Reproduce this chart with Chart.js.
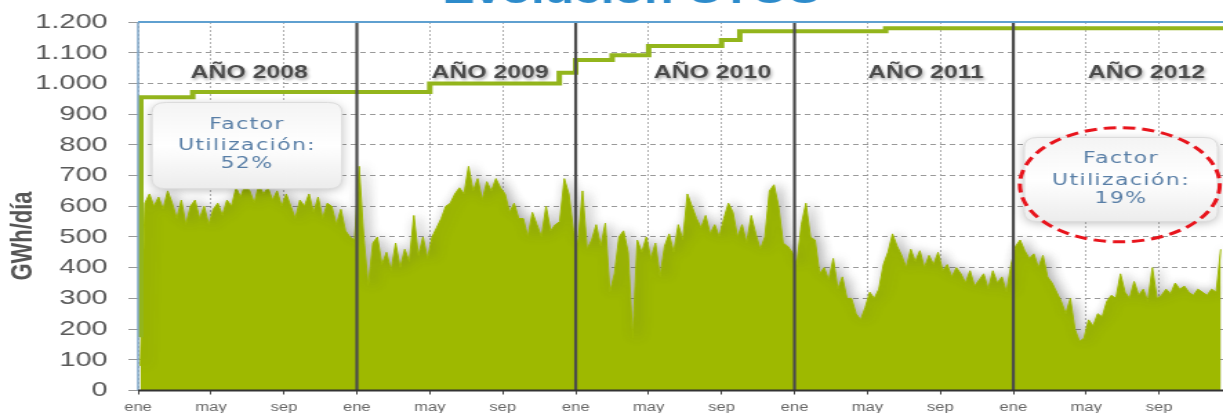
<!DOCTYPE html>
<html>
<head>
  <meta charset="utf-8">
  <title>Evolución CTCC</title>
  <script src="https://cdn.jsdelivr.net/npm/chart.js"></script>
  <style>
    html, body { margin: 0; padding: 0; background: #fff; overflow: hidden; }
    /* the original picture is stretched sideways, so draw narrow and widen */
    #wrap { width: 886px; height: 413px; transform: scaleX(1.3804); transform-origin: 0 0; }
  </style>
</head>
<body>
  <div id="wrap"><canvas id="ctccChart" width="886" height="413"></canvas></div>

  <script>
    // x axis is in months since ene 2008, four readings per month
    const monthLabels = ['ene', 'may', 'sep'];
    const yearStarts = [12, 24, 36, 48];
    const yearLabels = ['AÑO 2008', 'AÑO 2009', 'AÑO 2010', 'AÑO 2011', 'AÑO 2012'];
    const yearLabelMonths = [6.1, 19.3, 31.5, 43.2, 55.3];

    // consumo diario GWh/día (~weekly)
    const gas2008 = [80, 610, 640, 600, 630, 590, 650, 610, 560, 620, 540, 600,
                     620, 560, 600, 540, 590, 610, 570, 620, 600, 660, 630, 670,
                     650, 610, 670, 640, 660, 620, 650, 600, 640, 600, 560, 620,
                     600, 640, 580, 630, 560, 610, 600, 540, 590, 520, 500, 490];
    const gas2009 = [730, 500, 340, 480, 500, 410, 450, 390, 480, 400, 460, 420,
                     570, 440, 500, 430, 500, 530, 560, 600, 610, 640, 660, 640,
                     730, 650, 690, 620, 680, 650, 690, 660, 640, 580, 610, 560,
                     560, 500, 580, 540, 500, 600, 520, 540, 550, 690, 640, 520];
    const gas2010 = [480, 650, 460, 490, 540, 470, 545, 320, 380, 500, 520, 450,
                     170, 490, 450, 500, 430, 480, 370, 470, 510, 450, 540, 490,
                     640, 600, 560, 530, 570, 510, 540, 500, 560, 610, 580, 500,
                     540, 480, 570, 510, 460, 500, 650, 670, 600, 480, 470, 450];
    const gas2011 = [410, 540, 610, 500, 490, 380, 400, 360, 430, 330, 370, 300,
                     300, 250, 230, 270, 320, 300, 330, 410, 450, 510, 470, 440,
                     400, 460, 420, 455, 400, 440, 410, 450, 390, 410, 370, 400,
                     380, 350, 390, 340, 360, 380, 330, 390, 350, 370, 320, 410];
    const gas2012 = [470, 490, 455, 430, 445, 400, 440, 370, 350, 320, 290, 250,
                     300, 200, 160, 170, 230, 210, 250, 240, 290, 310, 300, 380,
                     320, 300, 355, 310, 330, 290, 400, 300, 310, 330, 315, 350,
                     330, 340, 320, 310, 330, 320, 310, 330, 320, 460];
    const gasYears = [gas2008, gas2009, gas2010, gas2011, gas2012];

    // capacidad (escalones)
    const capacityMonths = [0, 0.15, 3, 16, 23.1, 24, 26, 28, 32, 33, 41, 59.5];
    const capacityValues = [180, 955, 972, 1000, 1035, 1076, 1092, 1122, 1141, 1170, 1180, 1180];

    const factorTexts = [['Factor', 'Utilización:', '52%'], ['Factor', 'Utilización:', '19%']];

    const gasPoints = [];
    gasYears.forEach((vals, y) => {
      vals.forEach((v, i) => gasPoints.push({ x: 12 * y + i / 4 + 0.125, y: v }));
    });
    const capacityPoints = capacityMonths.map((m, i) => ({ x: m, y: capacityValues[i] }));

    function fmtThousands(v) {
      if (v >= 1000) return Math.floor(v / 1000) + '.' + String(v % 1000).padStart(3, '0');
      return String(v);
    }

    function roundRect(ctx, x, y, w, h, r) {
      ctx.beginPath();
      ctx.moveTo(x + r, y);
      ctx.lineTo(x + w - r, y);
      ctx.quadraticCurveTo(x + w, y, x + w, y + r);
      ctx.lineTo(x + w, y + h - r);
      ctx.quadraticCurveTo(x + w, y + h, x + w - r, y + h);
      ctx.lineTo(x + r, y + h);
      ctx.quadraticCurveTo(x, y + h, x, y + h - r);
      ctx.lineTo(x, y + r);
      ctx.quadraticCurveTo(x, y, x + r, y);
      ctx.closePath();
    }

    function drawFactorBox(chart, m0, m1, v0, v1, lines, lineVals) {
      const ctx = chart.ctx;
      const xs = chart.scales.x, ys = chart.scales.y;
      const x0 = xs.getPixelForValue(m0), x1 = xs.getPixelForValue(m1);
      const y0 = ys.getPixelForValue(v0), y1 = ys.getPixelForValue(v1);
      ctx.save();
      ctx.shadowColor = 'rgba(0, 0, 0, 0.25)';
      ctx.shadowBlur = 8;
      ctx.shadowOffsetY = 2;
      const g = ctx.createLinearGradient(0, y0, 0, y1);
      g.addColorStop(0, '#f4f4f4');
      g.addColorStop(0.5, '#ffffff');
      g.addColorStop(1, '#ececec');
      roundRect(ctx, x0, y0, x1 - x0, y1 - y0, 10);
      ctx.fillStyle = g;
      ctx.fill();
      ctx.shadowColor = 'rgba(0,0,0,0)';
      ctx.strokeStyle = '#dcdcdc';
      ctx.lineWidth = 1;
      ctx.stroke();
      ctx.fillStyle = '#587ea6';
      ctx.font = '16px "DejaVu Sans"';
      ctx.letterSpacing = '1px';
      ctx.textAlign = 'center';
      ctx.textBaseline = 'middle';
      const cx = (x0 + x1) / 2;
      lines.forEach((t, i) => ctx.fillText(t, cx, ys.getPixelForValue(lineVals[i])));
      ctx.restore();
    }

    const decorPlugin = {
      id: 'decor',
      beforeDatasetsDraw(chart) {
        const ctx = chart.ctx;
        ctx.save();
        ctx.shadowColor = 'rgba(70, 70, 70, 0.45)';
        ctx.shadowBlur = 10;
        ctx.shadowOffsetX = 3;
      },
      afterDatasetDraw(chart, args) {
        if (args.index === 1) chart.ctx.shadowColor = 'rgba(0, 0, 0, 0)';
      },
      afterDatasetsDraw(chart) {
        const ctx = chart.ctx;
        ctx.restore();
        const xs = chart.scales.x, ys = chart.scales.y;
        const { left, right, top, bottom } = chart.chartArea;

        ctx.save();
        // separadores de año
        ctx.strokeStyle = '#4b4b4b';
        ctx.lineWidth = 2.2;
        yearStarts.forEach(m => {
          const px = xs.getPixelForValue(m);
          ctx.beginPath(); ctx.moveTo(px, top); ctx.lineTo(px, bottom); ctx.stroke();
        });
        // marco
        ctx.strokeStyle = '#5fa0d0';
        ctx.lineWidth = 2;
        ctx.beginPath(); ctx.moveTo(left, top); ctx.lineTo(right, top); ctx.stroke();
        ctx.strokeStyle = '#7ea6c8';
        ctx.lineWidth = 1.5;
        ctx.beginPath(); ctx.moveTo(left, top); ctx.lineTo(left, bottom); ctx.stroke();
        ctx.strokeStyle = '#333';
        ctx.lineWidth = 2;
        ctx.beginPath(); ctx.moveTo(left, bottom); ctx.lineTo(right, bottom); ctx.stroke();

        // etiquetas de año
        ctx.font = 'bold 18px "Liberation Sans"';
        ctx.fillStyle = '#4a4a4a';
        ctx.textAlign = 'center';
        ctx.textBaseline = 'alphabetic';
        ctx.shadowColor = 'rgba(0, 0, 0, 0.35)';
        ctx.shadowBlur = 3;
        ctx.shadowOffsetX = 1;
        ctx.shadowOffsetY = 2;
        yearLabels.forEach((t, i) => ctx.fillText(t, xs.getPixelForValue(yearLabelMonths[i]), 78));
        ctx.restore();

        drawFactorBox(chart, 0.77, 11.18, 938, 657, factorTexts[0], [866, 798, 739]);
        drawFactorBox(chart, 48.6, 59.2, 824, 550, factorTexts[1], [755, 683, 623]);

        // elipse roja
        ctx.save();
        ctx.strokeStyle = '#e8141c';
        ctx.lineWidth = 3;
        ctx.setLineDash([9, 5]);
        const ex = xs.getPixelForValue(53.84), ey = ys.getPixelForValue(670);
        const rx = xs.getPixelForValue(53.84 + 5.48) - ex;
        const ry = ey - ys.getPixelForValue(670 + 186);
        ctx.beginPath();
        ctx.ellipse(ex, ey, rx, ry, 0, 0, Math.PI * 2);
        ctx.stroke();
        ctx.restore();

        // título del eje y
        ctx.save();
        ctx.translate(17.4, 236);
        ctx.rotate(-Math.PI / 2);
        ctx.font = 'bold 22px "Liberation Sans"';
        ctx.fillStyle = '#555';
        ctx.textAlign = 'center';
        ctx.textBaseline = 'middle';
        ctx.fillText('GWh/día', 0, 0);
        ctx.restore();

        // título (cortado arriba)
        ctx.save();
        ctx.font = 'bold 35px "Liberation Sans"';
        ctx.fillStyle = '#2d8bcb';
        ctx.textAlign = 'center';
        ctx.textBaseline = 'alphabetic';
        ctx.fillText('Evolución CTCC', 457.6, 3);
        ctx.restore();
      }
    };

    const ctx = document.getElementById('ctccChart').getContext('2d');
    new Chart(ctx, {
      type: 'line',
      data: {
        datasets: [{
          label: 'Capacidad',
          data: capacityPoints,
          stepped: true,
          borderColor: '#93b51c',
          borderWidth: 4,
          pointRadius: 0,
          fill: false
        }, {
          label: 'Consumo CTCC',
          data: gasPoints,
          borderColor: '#9eb900',
          borderWidth: 1,
          backgroundColor: '#9eb900',
          pointRadius: 0,
          tension: 0,
          fill: 'origin'
        }]
      },
      options: {
        responsive: false,
        animation: false,
        layout: { padding: { top: 22, right: 0, left: 0, bottom: 0 } },
        plugins: {
          legend: { display: false },
          tooltip: { enabled: false },
          title: { display: false }
        },
        scales: {
          x: {
            type: 'linear',
            min: 0,
            max: 59.5,
            afterFit: s => {
              s.height = 22.5;
              s.paddingLeft = 0; s.paddingRight = 0; s.paddingTop = 0; s.paddingBottom = 0;
            },
            border: { display: false, dash: [2, 2] },
            grid: { color: '#b0b0b0', lineWidth: 1, tickLength: 4, tickColor: '#444' },
            ticks: {
              stepSize: 4,
              includeBounds: false,
              autoSkip: false,
              maxRotation: 0,
              padding: 6,
              color: '#666',
              font: { family: 'Liberation Sans', size: 12 },
              callback: v => monthLabels[Math.round(v / 4) % 3]
            }
          },
          y: {
            min: 0,
            max: 1200,
            afterFit: s => {
              s.width = 100;
              s.paddingLeft = 0; s.paddingRight = 0; s.paddingTop = 0; s.paddingBottom = 0;
            },
            border: { display: false, dash: [4, 3] },
            grid: { color: '#9a9a9a', lineWidth: 1, tickLength: 7, tickColor: '#999' },
            ticks: {
              stepSize: 100,
              padding: 15,
              color: '#595959',
              font: { family: 'Liberation Sans', size: 21 },
              callback: v => fmtThousands(v)
            }
          }
        }
      },
      plugins: [decorPlugin]
    });
  </script>
</body>
</html>
